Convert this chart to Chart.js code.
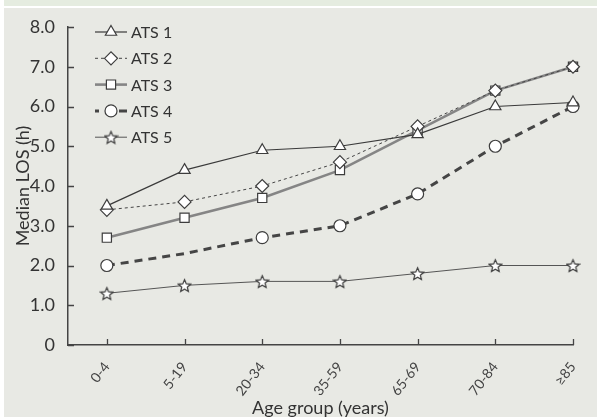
<!DOCTYPE html>
<html>
<head>
<meta charset="utf-8">
<script src="https://cdn.jsdelivr.net/npm/chart.js@4"></script>
<style>
    html, body { margin: 0; padding: 0; background: #fff; width: 597px; height: 417px; overflow: hidden; }
    #strip { position: absolute; left: 4px; top: 0; width: 593px; height: 6px; background: #e5ece0; }
    #panel { position: absolute; left: 4px; top: 8px; width: 593px; height: 409px; background: #e8e9e4; }
    #wrap { position: absolute; left: 0; top: 0; width: 597px; height: 417px; }
</style>
</head>
<body>
<div id="strip"></div>
<div id="panel"></div>
<div id="wrap"><canvas id="chart"></canvas></div>
<script>
const ageGroups = ['0-4', '5-19', '20-34', '35-59', '65-69', '70-84', '≥85'];
const ats1 = [3.5, 4.4, 4.9, 5.0, 5.3, 6.0, 6.1];
const ats2 = [3.4, 3.6, 4.0, 4.6, 5.5, 6.4, 7.0];
const ats3 = [2.7, 3.2, 3.7, 4.4, 5.4, 6.4, 7.0];
const ats4 = [2.0, 2.3, 2.7, 3.0, 3.8, 5.0, 6.0];
const ats5 = [1.3, 1.5, 1.6, 1.6, 1.8, 2.0, 2.0];
const seriesNames = ['ATS 1', 'ATS 2', 'ATS 3', 'ATS 4', 'ATS 5'];

const FONT = 'Lato';
const ink = '#3d3d3d';

// outlined five point star, used as point image
function makeStar(size) {
    const c = document.createElement('canvas');
    c.width = size; c.height = size;
    const g = c.getContext('2d');
    const cx = size / 2, cy = size / 2 + 0.8, ro = size / 2 - 1, ri = ro * 0.45;
    g.beginPath();
    for (let i = 0; i < 10; i++) {
        const r = i % 2 ? ri : ro;
        const a = -Math.PI / 2 + i * Math.PI / 5;
        g.lineTo(cx + r * Math.cos(a), cy + r * Math.sin(a));
    }
    g.closePath();
    g.fillStyle = '#fff';
    g.fill();
    g.strokeStyle = ink;
    g.lineWidth = 1.2;
    g.stroke();
    return c;
}
const star = makeStar(15);

const toPts = arr => arr.map((v, i) => ({ x: i, y: v }));

function ds(label, data, opts) {
    return Object.assign({
        label: label,
        data: toPts(data),
        fill: false,
        tension: 0,
        clip: false,
        pointBackgroundColor: '#fff',
        pointBorderColor: ink,
        pointBorderWidth: 1.2,
        pointRadius: 6
    }, opts);
}

const datasets = [
    ds(seriesNames[0], ats1, { borderColor: '#3a3a3a', borderWidth: 1.2, pointStyle: 'triangle', pointRadius: 6.5 }),
    ds(seriesNames[1], ats2, { borderColor: '#444', borderWidth: 1, borderDash: [3, 3], pointStyle: 'rectRot', pointRadius: 6.5 }),
    ds(seriesNames[2], ats3, { borderColor: '#858585', borderWidth: 2.6, pointStyle: 'rect', pointRadius: 6.5 }),
    ds(seriesNames[3], ats4, { borderColor: '#454545', borderWidth: 3, borderDash: [8, 6], pointStyle: 'circle', pointRadius: [6, 0, 6, 6, 6, 6, 6] }),
    ds(seriesNames[4], ats5, { borderColor: '#555', borderWidth: 1, pointStyle: star })
];

// small tick marks pointing into the plot
const innerTicks = {
    id: 'innerTicks',
    beforeDatasetsDraw(chart) {
        const ctx = chart.ctx;
        const xs = chart.scales.x, ys = chart.scales.y;
        const area = chart.chartArea;
        ctx.save();
        ctx.strokeStyle = '#444';
        ctx.lineWidth = 1.3;
        ctx.beginPath();
        ys.ticks.forEach(t => {
            const py = Math.round(ys.getPixelForValue(t.value)) + 0.5;
            ctx.moveTo(area.left, py);
            ctx.lineTo(area.left + 6, py);
        });
        ageGroups.forEach((_, i) => {
            const px = Math.round(xs.getPixelForValue(i)) + 0.5;
            ctx.moveTo(px, area.bottom);
            ctx.lineTo(px, area.bottom - 6);
        });
        ctx.stroke();
        ctx.restore();
    }
};

// legend with line samples drawn inside the plot
const lineLegend = {
    id: 'lineLegend',
    afterDraw(chart) {
        const ctx = chart.ctx;
        const x0 = 95, x1 = 127, tx = 131, y0 = 32, step = 26.3;
        ctx.save();
        chart.data.datasets.forEach((d, i) => {
            const y = y0 + i * step;
            ctx.save();
            ctx.strokeStyle = d.borderColor;
            ctx.lineWidth = d.borderWidth;
            ctx.setLineDash(d.borderDash || []);
            if (d.borderDash && d.borderDash[0] > 5) ctx.lineDashOffset = 4;
            ctx.beginPath();
            ctx.moveTo(x0, y);
            ctx.lineTo(x1, y);
            ctx.stroke();
            ctx.restore();
            const r = Array.isArray(d.pointRadius) ? d.pointRadius[0] : d.pointRadius;
            ctx.save();
            ctx.fillStyle = '#fff';
            ctx.strokeStyle = ink;
            ctx.lineWidth = 1.2;
            Chart.helpers.drawPoint(ctx, { pointStyle: d.pointStyle, radius: r, borderWidth: 1.2, rotation: 0 }, (x0 + x1) / 2, y);
            ctx.restore();
            ctx.fillStyle = '#333';
            ctx.font = '16px ' + FONT;
            ctx.textBaseline = 'middle';
            ctx.textAlign = 'left';
            ctx.fillText(d.label, tx, y + 1);
        });
        ctx.restore();
    }
};

new Chart(document.getElementById('chart'), {
    type: 'line',
    data: { datasets: datasets },
    plugins: [innerTicks, lineLegend],
    options: {
        responsive: true,
        maintainAspectRatio: false,
        animation: false,
        layout: { padding: { left: 0, right: 24, top: 27, bottom: 0 } },
        plugins: {
            legend: { display: false },
            tooltip: { enabled: false }
        },
        scales: {
            x: {
                type: 'linear',
                min: -0.5,
                max: 6,
                afterBuildTicks: s => { s.ticks = ageGroups.map((_, i) => ({ value: i })); },
                afterFit: s => { s.height = 72; },
                grid: { display: false },
                border: { display: true, color: '#444', width: 1.5 },
                ticks: {
                    autoSkip: false,
                    minRotation: 52,
                    maxRotation: 52,
                    padding: 6,
                    color: '#444',
                    font: { family: FONT, size: 14 },
                    callback: v => ageGroups[v]
                },
                title: {
                    display: true,
                    text: 'Age group (years)',
                    color: '#333',
                    font: { family: FONT, size: 18, lineHeight: 1 },
                    padding: { top: 0, bottom: 0 }
                }
            },
            y: {
                min: 0,
                max: 8,
                afterFit: s => { s.width = 68; },
                grid: { display: false },
                border: { display: true, color: '#444', width: 1.5 },
                ticks: {
                    stepSize: 1,
                    padding: 5,
                    color: '#333',
                    font: { family: FONT, size: 18 },
                    callback: v => v === 0 ? '0' : v.toFixed(1)
                },
                title: {
                    display: true,
                    text: 'Median LOS (h)',
                    color: '#333',
                    font: { family: FONT, size: 18, lineHeight: 1.2 },
                    padding: { top: 12, bottom: 0 }
                }
            }
        }
    }
});
</script>
</body>
</html>
